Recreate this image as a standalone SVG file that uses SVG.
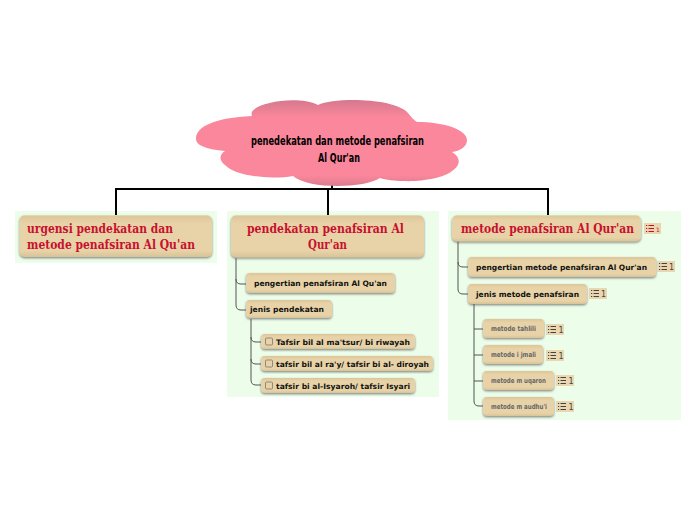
<svg xmlns="http://www.w3.org/2000/svg" width="696" height="520" viewBox="0 0 696 520">
<style>
.panel{fill:#ecfdea}
.n{fill:url(#tan);filter:url(#sh)}
.h{font:bold 12px "DejaVu Serif",serif;fill:#c8102e;text-anchor:middle}
.s{font:bold 7.500px "DejaVu Sans",sans-serif;fill:#111}
.t{font:bold 7px "DejaVu Sans",sans-serif;fill:#666}
.c{font:bold 12px "DejaVu Sans Condensed","DejaVu Sans",sans-serif;fill:#000;text-anchor:middle}
.k{fill:none;stroke:#000;stroke-width:2}
.b{fill:none;stroke:#555;stroke-width:1}
.bd{fill:#ead7b0}
.bt{font:8px "DejaVu Sans",sans-serif;fill:#444}
.bi{fill:none;stroke:#444;stroke-width:1}
.ri{fill:none;stroke:#c8102e;stroke-width:1}
.cb{fill:#e8d3a8;stroke:#777;stroke-width:.8}
</style>
<defs>
<linearGradient id="tan" x1="0" y1="0" x2="0" y2="1"><stop offset="0" stop-color="#ddc598"/><stop offset=".2" stop-color="#e8d3a8"/><stop offset=".85" stop-color="#e8d3a8"/><stop offset="1" stop-color="#d8c298"/></linearGradient>
<linearGradient id="pink" x1="0" y1="0" x2="0" y2="1"><stop offset="0" stop-color="#d6788c"/><stop offset=".2" stop-color="#fa879b"/><stop offset=".88" stop-color="#fa879b"/><stop offset="1" stop-color="#dd7a8e"/></linearGradient>
<filter id="sh" x="-5%" y="-10%" width="110%" height="130%"><feDropShadow dx="0" dy="1.2" stdDeviation=".8" flood-color="#555" flood-opacity=".7"/></filter>
<path id="list" class="bi" d="M2.500 1.500H8M2.500 4.500H8M2.500 7.500H8M0 1.500H1.200M0 4.500H1.200M0 7.500H1.200"/>
<path id="listr" class="ri" d="M2.500 1.500H8M2.500 4.500H8M2.500 7.500H8M0 1.500H1.200M0 4.500H1.200M0 7.500H1.200"/>
</defs>
<rect width="696" height="520" fill="#fff"/>
<rect class="panel" x="15" y="211" width="202" height="52"/>
<rect class="panel" x="227" y="211" width="212" height="186"/>
<rect class="panel" x="448" y="211" width="233" height="209"/>
<g id="connectors">
<path class="k" d="M332 185V188M116 215V189H548V215M328 189V215"/>
<path class="b" d="M236 258V305Q236 310 241 310H246M236 279Q236 284 241 284H246"/>
<path class="b" d="M251 319V380Q251 385 256 385H261M251 337Q251 342 256 342H261M251 359Q251 364 256 364H261"/>
<path class="b" d="M458 241V289Q458 294 463 294H468M458 262Q458 267 463 267H468"/>
<path class="b" d="M474 304V401Q474 406 479 406H483M474 329H483M474 355H483M474 381H483"/>
</g>
<g id="root">
<path d="M252 116C246 104 296 94 318 105C335 97 395 98 408 113C412 118 414 120 417 122C445 122 467 130 467 140C467 147 460 151 452 152C462 158 460 166 452 171C444 178 420 182 403 181C395 181 386 180 380 178C365 188 310 190 293 176C270 180 235 176 225 165C218 160 220 154 225 151C205 149 196 145 196 139C196 126 215 118 252 116Z" fill="url(#pink)"/>
<text class="c" x="337.500" y="145" textLength="173" lengthAdjust="spacingAndGlyphs">penedekatan dan metode penafsiran</text>
<text class="c" x="339" y="162" textLength="42" lengthAdjust="spacingAndGlyphs">Al Qur'an</text>
</g>
<g id="n1"><rect class="n" x="19.500" y="215.500" width="192.500" height="41.500" rx="5"/>
<text class="h" x="100" y="233" textLength="146" lengthAdjust="spacingAndGlyphs">urgensi pendekatan dan</text>
<text class="h" x="111" y="249" textLength="168" lengthAdjust="spacingAndGlyphs">metode penafsiran Al Qu'an</text></g>
<g id="n2"><rect class="n" x="231" y="215.500" width="193" height="42" rx="5"/>
<text class="h" x="325.500" y="233" textLength="157" lengthAdjust="spacingAndGlyphs">pendekatan penafsiran Al</text>
<text class="h" x="327.500" y="249" textLength="39" lengthAdjust="spacingAndGlyphs">Qur'an</text></g>
<g id="n3"><rect class="n" x="452" y="215.500" width="189" height="26" rx="5"/>
<text class="h" x="547.500" y="233" textLength="173" lengthAdjust="spacingAndGlyphs">metode penafsiran Al Qur'an</text>
<rect class="bd" x="644" y="223" width="17" height="11"/><use href="#listr" x="646" y="224"/><text class="bt" x="656" y="232" style="font-size:6px;fill:#c8102e">1</text></g>
<g id="n4"><rect class="n" x="246" y="273" width="149" height="20" rx="4"/><text class="s" x="254" y="286" textLength="133" lengthAdjust="spacingAndGlyphs">pengertian penafsiran Al Qu'an</text></g>
<g id="n5"><rect class="n" x="246" y="300" width="86" height="18" rx="4"/><text class="s" x="250" y="312" textLength="74" lengthAdjust="spacingAndGlyphs">jenis pendekatan</text></g>
<g id="n6"><rect class="n" x="261" y="334" width="154" height="15" rx="4"/><rect class="cb" x="265.500" y="338" width="7" height="7" rx="1"/><text class="s" x="276" y="344.500" textLength="134" lengthAdjust="spacingAndGlyphs">Tafsir bil al ma'tsur/ bi riwayah</text></g>
<g id="n7"><rect class="n" x="261" y="356" width="172" height="15" rx="4"/><rect class="cb" x="265.500" y="360" width="7" height="7" rx="1"/><text class="s" x="276" y="366.500" textLength="153" lengthAdjust="spacingAndGlyphs">tafsir bil al ra'y/ tafsir bi al- diroyah</text></g>
<g id="n8"><rect class="n" x="261" y="378" width="154" height="15" rx="4"/><rect class="cb" x="265.500" y="382" width="7" height="7" rx="1"/><text class="s" x="276" y="388.500" textLength="134" lengthAdjust="spacingAndGlyphs">tafsir bi al-Isyaroh/ tafsir Isyari</text></g>
<g id="n9"><rect class="n" x="468" y="257" width="188" height="20" rx="4"/><text class="s" x="476" y="270" textLength="171" lengthAdjust="spacingAndGlyphs">pengertian metode penafsiran Al Qur'an</text>
<rect class="bd" x="657" y="261" width="18" height="11"/><use href="#list" x="659" y="262"/><text class="bt" x="669" y="270">1</text></g>
<g id="n10"><rect class="n" x="468" y="284" width="119" height="20" rx="4"/><text class="s" x="476" y="297" textLength="103" lengthAdjust="spacingAndGlyphs">jenis metode penafsiran</text>
<rect class="bd" x="589" y="288" width="18" height="11"/><use href="#list" x="591" y="289"/><text class="bt" x="601" y="297">1</text></g>
<g id="n11"><rect class="n" x="483" y="319" width="61" height="19" rx="4"/><text class="t" x="491" y="331" textLength="45" lengthAdjust="spacingAndGlyphs">metode tahlili</text>
<rect class="bd" x="546" y="324" width="18" height="11"/><use href="#list" x="548" y="325"/><text class="bt" x="558.500" y="333">1</text></g>
<g id="n12"><rect class="n" x="483" y="345" width="60" height="19" rx="4"/><text class="t" x="491" y="357" textLength="45" lengthAdjust="spacingAndGlyphs">metode i jmali</text>
<rect class="bd" x="546" y="350" width="18" height="11"/><use href="#list" x="548" y="351"/><text class="bt" x="558.500" y="359">1</text></g>
<g id="n13"><rect class="n" x="483" y="371" width="71" height="19" rx="4"/><text class="t" x="491" y="383" textLength="55" lengthAdjust="spacingAndGlyphs">metode m uqaron</text>
<rect class="bd" x="556" y="375" width="18" height="11"/><use href="#list" x="558" y="376"/><text class="bt" x="568.500" y="384">1</text></g>
<g id="n14"><rect class="n" x="483" y="397" width="71" height="19" rx="4"/><text class="t" x="491" y="409" textLength="56" lengthAdjust="spacingAndGlyphs">metode m audhu'i</text>
<rect class="bd" x="556" y="401" width="18" height="11"/><use href="#list" x="558" y="402"/><text class="bt" x="568.500" y="410">1</text></g>
</svg>
